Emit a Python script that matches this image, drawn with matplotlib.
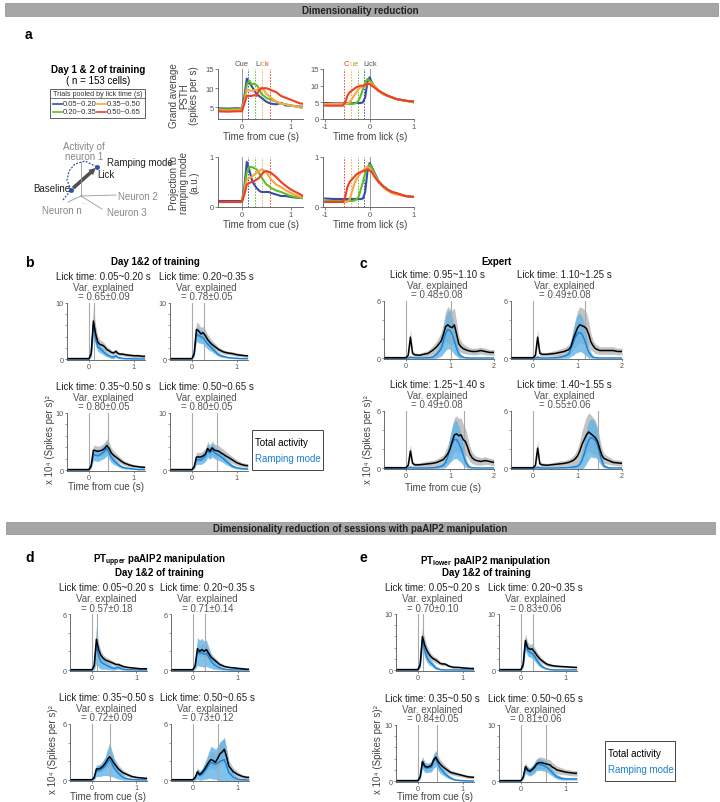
import numpy as np
import matplotlib
matplotlib.use("Agg")
import matplotlib.pyplot as plt
from matplotlib.patches import Rectangle, FancyArrowPatch

plt.rcParams.update({
    "font.family": ["Liberation Sans", "DejaVu Sans"],
    "mathtext.fontset": "custom",
    "mathtext.rm": "Liberation Sans",
    "mathtext.bf": "Liberation Sans:bold",
    "axes.unicode_minus": False,
})

W, H = 720, 803

# ── panel a data (order: blue, green, orange, red lick-time bins) ─────────────
LICK_COLORS = ["#3b4ba3", "#5cbf2a", "#f9a73e", "#ef3e23"]
LICK_BINS_A = ["0.05~0.20", "0.20~0.35", "0.35~0.50", "0.50~0.65"]
LICK_MEDIANS = [0.12, 0.27, 0.42, 0.57]

A_T_CUE = [-0.5, -0.3, -0.1, 0.0, 0.05, 0.1, 0.15, 0.2, 0.25, 0.3, 0.35, 0.4,
           0.45, 0.5, 0.55, 0.6, 0.7, 0.8, 0.9, 1.0, 1.1, 1.2, 1.25]
A_T_LICK = [-1.0, -0.8, -0.6, -0.55, -0.5, -0.45, -0.4, -0.35, -0.3, -0.25, -0.2,
            -0.15, -0.1, -0.05, 0.0, 0.05, 0.1, 0.2, 0.3, 0.4, 0.5, 0.6, 0.8, 1.0]

A_PSTH_CUE = [
    [4.8, 4.7, 4.8, 4.7, 8.0, 12.5, 11.5, 10.5, 9.5, 8.5, 8.0, 7.5, 7.0, 6.5, 6.2, 6.0, 5.8, 6.2, 5.5, 5.5, 5.3, 5.2, 5.2],
    [4.6, 4.5, 4.6, 4.5, 7.0, 11.0, 12.0, 11.0, 11.2, 10.8, 10.0, 8.5, 8.0, 7.5, 7.2, 7.0, 6.5, 6.0, 5.8, 5.5, 5.3, 5.0, 5.0],
    [4.3, 4.2, 4.3, 4.3, 6.5, 9.5, 9.5, 9.3, 9.5, 9.5, 10.0, 10.0, 9.5, 8.5, 8.0, 7.5, 6.5, 6.0, 5.8, 5.5, 5.3, 5.0, 5.0],
    [4.0, 3.9, 4.0, 4.0, 6.0, 8.0, 8.0, 8.0, 8.2, 8.0, 9.5, 10.0, 10.0, 10.0, 9.8, 9.5, 9.0, 8.0, 7.5, 7.0, 6.5, 6.0, 6.0],
]
A_PSTH_LICK = [
    [4.8, 4.7, 4.7, 4.7, 4.7, 4.7, 4.7, 4.8, 4.8, 4.8, 4.8, 5.0, 6.5, 11.0, 12.5, 11.0, 10.0, 8.5, 7.5, 7.0, 6.5, 6.0, 5.5, 5.2],
    [4.5, 4.5, 4.5, 4.5, 4.5, 4.5, 4.5, 4.6, 4.8, 5.5, 7.0, 9.0, 11.0, 12.0, 11.5, 11.0, 10.0, 8.5, 7.5, 7.0, 6.5, 6.0, 5.5, 5.0],
    [4.5, 4.5, 4.5, 4.5, 4.6, 5.0, 6.0, 7.0, 8.0, 9.0, 9.5, 9.8, 10.0, 10.5, 11.0, 10.5, 10.0, 8.5, 7.5, 7.0, 6.5, 6.0, 5.5, 5.0],
    [4.0, 4.0, 4.0, 5.0, 7.0, 8.0, 8.5, 9.0, 9.5, 9.8, 10.0, 10.0, 10.2, 10.5, 10.5, 10.0, 9.5, 8.5, 7.8, 7.0, 6.5, 6.0, 5.5, 5.2],
]
A_PROJ_CUE = [
    [0.12, 0.12, 0.12, 0.12, 0.4, 0.9, 0.75, 0.55, 0.45, 0.38, 0.33, 0.3, 0.3, 0.3, 0.3, 0.28, 0.25, 0.22, 0.22, 0.2, 0.19, 0.18, 0.18],
    [0.1, 0.1, 0.1, 0.1, 0.35, 0.7, 0.8, 0.8, 0.78, 0.75, 0.68, 0.6, 0.52, 0.45, 0.42, 0.38, 0.33, 0.3, 0.26, 0.22, 0.2, 0.18, 0.18],
    [0.1, 0.1, 0.1, 0.1, 0.3, 0.55, 0.58, 0.6, 0.65, 0.68, 0.72, 0.75, 0.73, 0.7, 0.62, 0.55, 0.45, 0.4, 0.33, 0.28, 0.24, 0.2, 0.2],
    [0.1, 0.1, 0.1, 0.1, 0.25, 0.45, 0.48, 0.5, 0.52, 0.55, 0.58, 0.65, 0.7, 0.72, 0.7, 0.68, 0.6, 0.5, 0.42, 0.35, 0.3, 0.25, 0.22],
]
A_PROJ_LICK = [
    [0.17, 0.16, 0.16, 0.16, 0.16, 0.16, 0.16, 0.16, 0.16, 0.16, 0.16, 0.17, 0.3, 0.7, 0.88, 0.8, 0.7, 0.52, 0.42, 0.35, 0.3, 0.27, 0.22, 0.2],
    [0.12, 0.12, 0.12, 0.12, 0.12, 0.12, 0.12, 0.13, 0.15, 0.2, 0.35, 0.5, 0.68, 0.8, 0.85, 0.78, 0.68, 0.52, 0.42, 0.35, 0.3, 0.27, 0.22, 0.2],
    [0.1, 0.1, 0.1, 0.1, 0.1, 0.15, 0.3, 0.45, 0.55, 0.62, 0.68, 0.72, 0.78, 0.8, 0.78, 0.72, 0.65, 0.5, 0.4, 0.33, 0.28, 0.25, 0.22, 0.2],
    [0.1, 0.1, 0.1, 0.2, 0.4, 0.5, 0.55, 0.6, 0.65, 0.68, 0.7, 0.72, 0.73, 0.75, 0.73, 0.7, 0.62, 0.5, 0.42, 0.35, 0.3, 0.28, 0.22, 0.2],
]

# ── panels b, d, e: cue-aligned time grid ────────────────────────────────────
T_CUE = [-0.5, -0.3, -0.1, 0.0, 0.05, 0.1, 0.15, 0.2, 0.25, 0.3, 0.35, 0.4, 0.45,
         0.5, 0.55, 0.6, 0.65, 0.7, 0.75, 0.8, 0.9, 1.0, 1.1, 1.2, 1.25]
LICK_BINS_B = ["0.05~0.20", "0.20~0.35", "0.35~0.50", "0.50~0.65"]

B_VAR = ["0.65±0.09", "0.78±0.05", "0.80±0.05", "0.80±0.05"]
B_TOTAL = [
    [0.1, 0.1, 0.1, 0.1, 1.0, 6.8, 4.5, 3.0, 2.6, 2.5, 2.2, 1.7, 1.5, 1.2, 1.1, 1.4, 1.0, 0.9, 0.9, 0.8, 0.7, 0.6, 0.6, 0.5, 0.5],
    [0.1, 0.1, 0.1, 0.1, 1.0, 5.3, 5.0, 4.5, 4.7, 4.2, 3.5, 3.0, 2.6, 2.3, 2.0, 1.7, 1.5, 1.3, 1.2, 1.1, 1.0, 0.8, 0.7, 0.6, 0.6],
    [0.1, 0.1, 0.1, 0.1, 0.8, 3.5, 3.4, 3.3, 3.4, 3.5, 3.8, 4.3, 3.8, 3.0, 2.6, 2.3, 2.0, 1.7, 1.4, 1.2, 0.9, 0.7, 0.6, 0.5, 0.5],
    [0.1, 0.1, 0.1, 0.1, 0.6, 2.3, 2.3, 2.3, 2.5, 2.8, 3.8, 3.3, 3.9, 3.5, 3.4, 3.3, 3.0, 2.8, 2.5, 2.3, 1.8, 1.3, 1.0, 0.8, 0.8],
]
B_TOTAL_SEM = [
    [0.1, 0.1, 0.1, 0.1, 0.5, 2.4, 1.5, 1.0, 0.8, 0.7, 0.6, 0.5, 0.45, 0.4, 0.4, 0.4, 0.35, 0.3, 0.3, 0.3, 0.3, 0.3, 0.3, 0.25, 0.25],
    [0.1, 0.1, 0.1, 0.1, 0.4, 1.3, 1.3, 1.2, 1.1, 1.0, 0.9, 0.8, 0.7, 0.6, 0.5, 0.45, 0.4, 0.35, 0.35, 0.3, 0.3, 0.3, 0.25, 0.25, 0.25],
    [0.1, 0.1, 0.1, 0.1, 0.3, 0.9, 0.9, 0.9, 0.9, 1.0, 1.1, 1.2, 1.1, 0.9, 0.8, 0.7, 0.6, 0.5, 0.45, 0.4, 0.35, 0.3, 0.25, 0.25, 0.25],
    [0.1, 0.1, 0.1, 0.1, 0.3, 0.8, 0.8, 0.8, 0.9, 1.0, 1.2, 1.1, 1.2, 1.1, 1.0, 1.0, 0.9, 0.9, 0.8, 0.7, 0.6, 0.5, 0.4, 0.35, 0.35],
]
B_RAMP = [
    [0.05, 0.05, 0.05, 0.05, 0.8, 6.3, 3.5, 2.2, 1.8, 1.5, 1.1, 0.8, 0.6, 0.4, 0.4, 0.6, 0.3, 0.2, 0.15, 0.1, 0.1, 0.05, 0.05, 0.05, 0.05],
    [0.05, 0.05, 0.05, 0.05, 0.8, 4.5, 4.2, 4.0, 3.8, 3.2, 2.7, 2.3, 1.9, 1.5, 1.1, 0.8, 0.6, 0.5, 0.4, 0.3, 0.2, 0.15, 0.1, 0.1, 0.1],
    [0.05, 0.05, 0.05, 0.05, 0.6, 2.7, 2.6, 2.5, 2.7, 3.0, 3.3, 3.8, 3.0, 2.2, 1.7, 1.3, 1.0, 0.7, 0.5, 0.4, 0.3, 0.2, 0.1, 0.1, 0.1],
    [0.05, 0.05, 0.05, 0.05, 0.5, 1.8, 1.8, 1.8, 2.1, 2.5, 3.4, 3.0, 3.5, 3.1, 2.8, 2.6, 2.3, 2.0, 1.6, 1.3, 0.7, 0.4, 0.3, 0.2, 0.2],
]
B_RAMP_SEM = [
    [0.05, 0.05, 0.05, 0.05, 0.5, 2.0, 1.2, 0.8, 0.7, 0.6, 0.5, 0.4, 0.3, 0.3, 0.3, 0.3, 0.2, 0.15, 0.1, 0.1, 0.1, 0.05, 0.05, 0.05, 0.05],
    [0.05, 0.05, 0.05, 0.05, 0.4, 1.3, 1.3, 1.2, 1.1, 1.0, 0.9, 0.8, 0.6, 0.5, 0.4, 0.3, 0.25, 0.2, 0.15, 0.1, 0.1, 0.1, 0.05, 0.05, 0.05],
    [0.05, 0.05, 0.05, 0.05, 0.3, 1.0, 1.0, 1.0, 1.0, 1.1, 1.2, 1.3, 1.1, 0.9, 0.7, 0.5, 0.4, 0.3, 0.25, 0.2, 0.15, 0.1, 0.05, 0.05, 0.05],
    [0.05, 0.05, 0.05, 0.05, 0.3, 0.8, 0.8, 0.8, 0.9, 1.0, 1.2, 1.1, 1.2, 1.1, 1.0, 0.9, 0.8, 0.7, 0.6, 0.5, 0.3, 0.2, 0.15, 0.1, 0.1],
]

D_VAR = ["0.57±0.18", "0.71±0.14", "0.72±0.09", "0.73±0.12"]
D_TOTAL = [
    [0.05, 0.05, 0.05, 0.05, 0.5, 3.3, 2.2, 1.6, 1.3, 1.1, 1.0, 0.9, 0.8, 0.7, 0.6, 0.6, 0.5, 0.4, 0.35, 0.3, 0.25, 0.2, 0.15, 0.15, 0.15],
    [0.05, 0.05, 0.05, 0.05, 0.5, 2.3, 2.0, 2.2, 2.0, 2.2, 1.8, 1.4, 1.2, 1.0, 0.8, 0.6, 0.5, 0.4, 0.35, 0.3, 0.25, 0.2, 0.15, 0.1, 0.1],
    [0.05, 0.05, 0.05, 0.05, 0.3, 1.2, 1.2, 1.3, 1.5, 1.8, 2.2, 2.5, 2.2, 1.8, 1.5, 1.2, 1.0, 0.8, 0.7, 0.6, 0.4, 0.3, 0.25, 0.2, 0.2],
    [0.05, 0.05, 0.05, 0.05, 0.3, 0.9, 0.6, 0.8, 1.1, 1.5, 1.9, 2.2, 2.1, 1.9, 2.3, 2.8, 3.0, 3.3, 2.5, 1.5, 0.9, 0.6, 0.4, 0.3, 0.3],
]
D_TOTAL_SEM = [
    [0.05, 0.05, 0.05, 0.05, 0.3, 1.0, 0.7, 0.5, 0.4, 0.35, 0.3, 0.3, 0.25, 0.25, 0.2, 0.2, 0.2, 0.15, 0.15, 0.1, 0.1, 0.1, 0.1, 0.1, 0.1],
    [0.05, 0.05, 0.05, 0.05, 0.3, 0.6, 0.6, 0.6, 0.6, 0.6, 0.5, 0.4, 0.35, 0.3, 0.25, 0.2, 0.2, 0.15, 0.1, 0.1, 0.1, 0.1, 0.05, 0.05, 0.05],
    [0.05, 0.05, 0.05, 0.05, 0.2, 0.4, 0.4, 0.4, 0.5, 0.6, 0.8, 1.0, 0.8, 0.6, 0.5, 0.4, 0.35, 0.3, 0.25, 0.2, 0.15, 0.1, 0.1, 0.1, 0.1],
    [0.05, 0.05, 0.05, 0.05, 0.2, 0.4, 0.3, 0.4, 0.5, 0.6, 0.7, 0.9, 0.9, 0.8, 0.9, 1.1, 1.2, 1.3, 1.0, 0.6, 0.4, 0.3, 0.2, 0.15, 0.15],
]
D_RAMP = [
    [0.02, 0.02, 0.02, 0.02, 0.4, 2.7, 1.5, 0.9, 0.7, 0.6, 0.45, 0.35, 0.25, 0.2, 0.25, 0.3, 0.2, 0.1, 0.08, 0.05, 0.05, 0.03, 0.03, 0.03, 0.03],
    [0.02, 0.02, 0.02, 0.02, 0.4, 2.0, 1.8, 1.9, 1.7, 1.8, 1.4, 1.0, 0.7, 0.5, 0.35, 0.25, 0.15, 0.1, 0.08, 0.05, 0.03, 0.03, 0.03, 0.03, 0.03],
    [0.02, 0.02, 0.02, 0.02, 0.2, 1.0, 1.0, 1.1, 1.3, 1.5, 1.9, 2.2, 1.8, 1.3, 1.0, 0.7, 0.5, 0.3, 0.2, 0.15, 0.08, 0.05, 0.03, 0.03, 0.03],
    [0.02, 0.02, 0.02, 0.02, 0.2, 0.7, 0.5, 0.6, 0.9, 1.2, 1.6, 1.9, 1.8, 1.7, 1.8, 2.0, 2.1, 2.2, 1.5, 0.8, 0.3, 0.1, 0.05, 0.03, 0.03],
]
D_RAMP_SEM = [
    [0.02, 0.02, 0.02, 0.02, 0.4, 2.0, 1.2, 0.8, 0.6, 0.5, 0.4, 0.3, 0.25, 0.2, 0.2, 0.2, 0.15, 0.1, 0.08, 0.05, 0.05, 0.03, 0.03, 0.03, 0.03],
    [0.02, 0.02, 0.02, 0.02, 0.3, 1.5, 1.4, 1.5, 1.4, 1.4, 1.1, 0.8, 0.6, 0.4, 0.3, 0.2, 0.15, 0.1, 0.08, 0.05, 0.03, 0.03, 0.03, 0.03, 0.03],
    [0.02, 0.02, 0.02, 0.02, 0.2, 0.6, 0.6, 0.7, 0.8, 1.0, 1.4, 1.8, 1.4, 1.0, 0.8, 0.6, 0.4, 0.3, 0.2, 0.15, 0.08, 0.05, 0.03, 0.03, 0.03],
    [0.02, 0.02, 0.02, 0.02, 0.2, 0.6, 0.5, 0.6, 0.8, 1.1, 1.4, 1.7, 1.7, 1.6, 1.8, 2.1, 2.2, 2.3, 1.7, 1.0, 0.4, 0.15, 0.08, 0.05, 0.05],
]

E_VAR = ["0.70±0.10", "0.83±0.06", "0.84±0.05", "0.81±0.06"]
E_TOTAL = [
    [0.1, 0.1, 0.1, 0.1, 1.0, 6.0, 4.5, 3.5, 2.8, 2.3, 2.0, 1.8, 1.5, 1.2, 1.1, 1.1, 0.9, 0.7, 0.6, 0.5, 0.5, 0.4, 0.35, 0.3, 0.3],
    [0.1, 0.1, 0.1, 0.1, 1.0, 5.3, 4.0, 3.7, 3.8, 3.3, 2.7, 2.2, 1.8, 1.5, 1.2, 1.0, 0.9, 0.8, 0.75, 0.7, 0.65, 0.6, 0.55, 0.5, 0.5],
    [0.1, 0.1, 0.1, 0.1, 0.8, 3.5, 2.7, 2.5, 2.6, 2.8, 3.8, 4.3, 3.5, 3.0, 2.6, 2.3, 2.0, 1.7, 1.5, 1.4, 1.2, 1.0, 0.8, 0.7, 0.7],
    [0.1, 0.1, 0.1, 0.1, 0.7, 2.6, 2.0, 1.8, 2.1, 2.5, 3.1, 3.3, 3.3, 3.2, 3.1, 3.0, 2.9, 2.5, 2.3, 2.0, 1.8, 1.6, 1.5, 1.4, 1.4],
]
E_TOTAL_SEM = [
    [0.1, 0.1, 0.1, 0.1, 0.4, 1.6, 1.2, 0.9, 0.7, 0.6, 0.5, 0.5, 0.4, 0.3, 0.3, 0.3, 0.25, 0.2, 0.2, 0.2, 0.15, 0.15, 0.1, 0.1, 0.1],
    [0.1, 0.1, 0.1, 0.1, 0.4, 1.2, 1.0, 0.9, 0.9, 0.8, 0.7, 0.6, 0.5, 0.4, 0.35, 0.3, 0.3, 0.25, 0.2, 0.2, 0.2, 0.15, 0.15, 0.15, 0.15],
    [0.1, 0.1, 0.1, 0.1, 0.4, 0.9, 0.8, 0.7, 0.7, 0.8, 1.0, 1.2, 1.0, 0.8, 0.7, 0.6, 0.5, 0.5, 0.4, 0.4, 0.35, 0.3, 0.3, 0.25, 0.25],
    [0.1, 0.1, 0.1, 0.1, 0.3, 0.7, 0.6, 0.6, 0.7, 0.8, 0.9, 1.0, 1.0, 1.0, 0.9, 0.9, 0.9, 0.8, 0.7, 0.7, 0.6, 0.5, 0.5, 0.5, 0.5],
]
E_RAMP = [
    [0.05, 0.05, 0.05, 0.05, 0.8, 5.5, 3.5, 2.3, 1.6, 1.2, 0.8, 0.4, 0.25, 0.1, 0.08, 0.05, 0.05, 0.05, 0.05, 0.05, 0.05, 0.05, 0.05, 0.05, 0.05],
    [0.05, 0.05, 0.05, 0.05, 0.8, 4.8, 3.5, 3.2, 3.0, 2.5, 1.8, 1.2, 0.8, 0.5, 0.3, 0.2, 0.1, 0.08, 0.05, 0.05, 0.05, 0.05, 0.05, 0.05, 0.05],
    [0.05, 0.05, 0.05, 0.05, 0.7, 3.2, 2.5, 2.3, 2.4, 2.5, 3.5, 4.0, 3.0, 2.3, 1.8, 1.3, 1.0, 0.7, 0.5, 0.3, 0.15, 0.1, 0.05, 0.05, 0.05],
    [0.05, 0.05, 0.05, 0.05, 0.6, 2.2, 1.8, 1.6, 1.9, 2.3, 2.9, 3.0, 2.9, 2.8, 2.6, 2.3, 1.9, 1.5, 1.1, 0.8, 0.5, 0.4, 0.4, 0.4, 0.4],
]
E_RAMP_SEM = [
    [0.05, 0.05, 0.05, 0.05, 0.4, 1.8, 1.2, 0.9, 0.7, 0.5, 0.4, 0.3, 0.2, 0.1, 0.05, 0.05, 0.05, 0.05, 0.05, 0.05, 0.05, 0.05, 0.05, 0.05, 0.05],
    [0.05, 0.05, 0.05, 0.05, 0.4, 1.3, 1.0, 0.9, 0.9, 0.8, 0.6, 0.5, 0.35, 0.25, 0.15, 0.1, 0.08, 0.05, 0.05, 0.05, 0.05, 0.05, 0.05, 0.05, 0.05],
    [0.05, 0.05, 0.05, 0.05, 0.4, 1.0, 0.9, 0.8, 0.8, 0.9, 1.2, 1.4, 1.1, 0.9, 0.7, 0.5, 0.4, 0.3, 0.2, 0.15, 0.1, 0.05, 0.05, 0.05, 0.05],
    [0.05, 0.05, 0.05, 0.05, 0.3, 0.8, 0.7, 0.7, 0.8, 0.9, 1.0, 1.1, 1.0, 1.0, 0.9, 0.8, 0.7, 0.6, 0.5, 0.4, 0.3, 0.2, 0.2, 0.2, 0.2],
]

# ── panel c (expert): longer time grid ───────────────────────────────────────
T_EXP = [-0.5, -0.3, -0.1, 0.0, 0.05, 0.1, 0.15, 0.2, 0.3, 0.4, 0.5, 0.6, 0.7, 0.8, 0.85,
         0.9, 0.95, 1.0, 1.05, 1.1, 1.15, 1.2, 1.25, 1.3, 1.35, 1.4, 1.45, 1.5, 1.55,
         1.6, 1.7, 1.8, 1.9, 2.0]
LICK_BINS_C = ["0.95~1.10", "1.10~1.25", "1.25~1.40", "1.40~1.55"]
LICK_MEDIANS_C = [1.02, 1.17, 1.32, 1.47]
C_VAR = ["0.48±0.08", "0.49±0.08", "0.49±0.08", "0.55±0.06"]
C_TOTAL = [
    [0.05, 0.05, 0.05, 0.05, 0.3, 2.2, 0.5, 0.35, 0.3, 0.4, 0.5, 0.8, 1.2, 1.8, 2.5, 3.3, 3.5, 3.3, 3.2, 3.5, 2.5, 1.5, 1.2, 1.0, 0.9, 0.8, 0.75, 0.7, 0.7, 0.7, 0.8, 0.7, 0.6, 0.6],
    [0.05, 0.05, 0.05, 0.05, 0.3, 2.2, 0.5, 0.4, 0.4, 0.45, 0.5, 0.6, 0.7, 0.9, 1.2, 2.0, 2.6, 3.2, 3.5, 3.4, 3.3, 3.1, 2.5, 1.7, 1.3, 1.0, 0.9, 0.8, 0.8, 0.8, 0.8, 0.8, 0.7, 0.7],
    [0.05, 0.05, 0.05, 0.05, 0.3, 1.8, 0.5, 0.35, 0.35, 0.4, 0.45, 0.5, 0.6, 0.8, 0.9, 1.2, 1.5, 2.0, 2.8, 3.5, 3.6, 3.4, 3.5, 3.0, 2.8, 2.2, 1.5, 1.1, 0.9, 0.8, 0.7, 0.8, 0.7, 0.6],
    [0.05, 0.05, 0.05, 0.05, 0.3, 2.1, 0.45, 0.35, 0.3, 0.35, 0.4, 0.45, 0.5, 0.6, 0.7, 0.8, 1.0, 1.3, 1.8, 2.5, 3.0, 3.5, 3.8, 3.6, 3.4, 3.2, 2.8, 2.0, 1.3, 1.0, 0.8, 0.6, 0.55, 0.5],
]
C_TOTAL_SEM = [
    [0.05, 0.05, 0.05, 0.05, 0.2, 0.8, 0.3, 0.2, 0.2, 0.25, 0.3, 0.45, 0.6, 0.9, 1.2, 1.6, 1.9, 1.9, 1.8, 1.8, 1.3, 0.8, 0.6, 0.5, 0.45, 0.4, 0.35, 0.35, 0.35, 0.35, 0.35, 0.35, 0.3, 0.3],
    [0.05, 0.05, 0.05, 0.05, 0.2, 0.8, 0.3, 0.2, 0.2, 0.25, 0.3, 0.35, 0.4, 0.5, 0.7, 1.1, 1.5, 1.8, 1.9, 1.9, 1.8, 1.7, 1.3, 0.9, 0.6, 0.5, 0.45, 0.4, 0.4, 0.4, 0.4, 0.4, 0.35, 0.35],
    [0.05, 0.05, 0.05, 0.05, 0.2, 0.7, 0.3, 0.2, 0.2, 0.25, 0.3, 0.3, 0.35, 0.45, 0.5, 0.7, 0.9, 1.2, 1.5, 1.8, 1.9, 1.8, 1.8, 1.6, 1.4, 1.1, 0.8, 0.6, 0.5, 0.45, 0.4, 0.4, 0.35, 0.35],
    [0.05, 0.05, 0.05, 0.05, 0.2, 0.8, 0.3, 0.2, 0.2, 0.2, 0.25, 0.3, 0.3, 0.35, 0.4, 0.5, 0.6, 0.8, 1.1, 1.4, 1.7, 1.9, 2.0, 2.0, 1.9, 1.8, 1.5, 1.1, 0.7, 0.5, 0.4, 0.3, 0.3, 0.3],
]
C_RAMP = [
    [0, 0, 0, 0, 0.02, 0.1, 0.05, 0.03, 0.03, 0.03, 0.05, 0.1, 0.4, 1.0, 1.8, 2.6, 3.0, 2.9, 2.5, 1.8, 1.0, 0.4, 0.2, 0.1, 0.05, 0.03, 0.02, 0.02, 0.02, 0.02, 0.02, 0.02, 0.02, 0.02],
    [0, 0, 0, 0, 0.02, 0.1, 0.03, 0.02, 0.02, 0.03, 0.05, 0.1, 0.2, 0.4, 1.0, 1.6, 2.2, 2.6, 2.7, 2.5, 2.0, 1.3, 0.6, 0.3, 0.1, 0.05, 0.03, 0.02, 0.02, 0.02, 0.02, 0.02, 0.02, 0.02],
    [0, 0, 0, 0, 0.02, 0.1, 0.03, 0.02, 0.02, 0.02, 0.03, 0.05, 0.1, 0.2, 0.3, 0.6, 1.2, 2.0, 2.6, 3.0, 3.0, 2.6, 2.1, 1.4, 0.7, 0.3, 0.1, 0.05, 0.03, 0.02, 0.02, 0.02, 0.02, 0.02],
    [0, 0, 0, 0, 0.02, 0.1, 0.03, 0.02, 0.02, 0.02, 0.02, 0.03, 0.05, 0.08, 0.1, 0.12, 0.15, 0.2, 0.4, 0.8, 1.5, 2.3, 2.9, 3.2, 3.1, 2.9, 2.4, 1.5, 0.7, 0.2, 0.03, 0.02, 0.02, 0.02],
]
C_RAMP_SEM = [
    [0.02, 0.02, 0.02, 0.02, 0.05, 0.2, 0.05, 0.05, 0.05, 0.05, 0.1, 0.2, 0.4, 0.8, 1.3, 1.8, 2.0, 2.0, 1.8, 1.4, 0.8, 0.4, 0.2, 0.1, 0.05, 0.03, 0.02, 0.02, 0.02, 0.02, 0.02, 0.02, 0.02, 0.02],
    [0.02, 0.02, 0.02, 0.02, 0.05, 0.2, 0.05, 0.05, 0.05, 0.05, 0.1, 0.15, 0.2, 0.4, 0.8, 1.3, 1.7, 2.0, 2.0, 1.9, 1.6, 1.1, 0.6, 0.3, 0.1, 0.05, 0.03, 0.02, 0.02, 0.02, 0.02, 0.02, 0.02, 0.02],
    [0.02, 0.02, 0.02, 0.02, 0.05, 0.2, 0.05, 0.05, 0.05, 0.05, 0.05, 0.1, 0.15, 0.2, 0.3, 0.5, 0.9, 1.4, 1.8, 2.0, 2.0, 1.8, 1.5, 1.1, 0.6, 0.3, 0.1, 0.05, 0.03, 0.02, 0.02, 0.02, 0.02, 0.02],
    [0.02, 0.02, 0.02, 0.02, 0.05, 0.2, 0.05, 0.05, 0.05, 0.05, 0.05, 0.05, 0.08, 0.1, 0.15, 0.2, 0.25, 0.3, 0.5, 0.9, 1.4, 1.8, 2.0, 2.0, 2.0, 1.8, 1.5, 1.0, 0.5, 0.2, 0.05, 0.02, 0.02, 0.02],
]

# ── layout (pixel boxes: x0, x1, y_top, y_bottom) ────────────────────────────
B_POS = [(66.5, 145, 304, 361), (169.5, 248, 304, 361), (66.5, 145, 414, 472), (169.5, 248, 414, 472)]
C_POS = [(384, 494, 302, 360), (511, 622, 302, 360), (384, 494, 412, 470), (511, 622, 412, 470)]
D_POS = [(70, 147, 615, 672), (170.5, 249, 615, 672), (70, 147, 725, 782), (170.5, 249, 725, 782)]
E_POS = [(395.5, 474, 615, 672), (498.5, 577, 615, 672), (395.5, 474, 726, 783), (498.5, 577, 726, 783)]

TOTAL_C = "black"
RAMP_C = "#1c80d4"
GRAY_BAND = "#bdbdbd"
BLUE_BAND = "#5fb5e8"
AX_C = "#555555"

fig = plt.figure(figsize=(W / 100, H / 100), dpi=100)

# overlay for headers / schematic / boxes (pixel coords, y down)
ov = fig.add_axes([0, 0, 1, 1])
ov.set_xlim(0, W)
ov.set_ylim(H, 0)
ov.axis("off")


def add_ax(x0, x1, yt, yb):
    return fig.add_axes([x0 / W, 1 - yb / H, (x1 - x0) / W, (yb - yt) / H])


def txt(x, y, s, **kw):
    kw.setdefault("ha", "center")
    kw.setdefault("va", "center")
    return fig.text(x / W, 1 - y / H, s, **kw)


def style(ax, xlim, ylim, xticks, yticks, lab=5.5, tlen=2.0):
    ax.set_xlim(*xlim)
    ax.set_ylim(*ylim)
    ax.patch.set_alpha(0)
    for s in ("top", "right"):
        ax.spines[s].set_visible(False)
    for s in ("left", "bottom"):
        ax.spines[s].set_linewidth(0.6)
        ax.spines[s].set_color(AX_C)
    ax.set_xticks(xticks)
    ax.set_xticklabels([f"{v:g}" for v in xticks])
    ax.set_yticks(yticks)
    ax.set_yticklabels([f"{v:g}" for v in yticks])
    ax.tick_params(length=tlen, width=0.5, labelsize=lab, colors=AX_C, pad=0.8)


def rainbow(x, y, parts, size):
    r = fig.canvas.get_renderer()
    for s, c in parts:
        t = txt(x, y, s, color=c, fontsize=size, ha="left")
        x += t.get_window_extent(renderer=r).width


# ── headers ──────────────────────────────────────────────────────────────────
ov.add_patch(Rectangle((5, 4), 713, 13, fc="#a6a6a6", ec="#8c8c8c", lw=0.5))
txt(360, 10.5, "Dimensionality reduction", fontsize=7, weight="bold", color="#222222")
ov.add_patch(Rectangle((6, 523), 709, 12, fc="#a6a6a6", ec="#8c8c8c", lw=0.5))
txt(360, 529, "Dimensionality reduction of sessions with paAIP2 manipulation",
    fontsize=7, weight="bold", color="#222222")

# ── panel a ──────────────────────────────────────────────────────────────────
txt(28, 35, "a", fontsize=10, weight="bold")
txt(98, 70, "Day 1 & 2 of training", fontsize=7, weight="bold")
txt(98, 81, "( n = 153 cells)", fontsize=7)

ov.add_patch(Rectangle((50, 90), 95, 29, fc="white", ec="#444444", lw=0.6))
ov.plot([50, 145], [98.5, 98.5], color="#444444", lw=0.5)
txt(97.5, 94, "Trials pooled by lick time (s)", fontsize=5.2, color="#333333")
for i, (lab, c) in enumerate(zip(LICK_BINS_A, LICK_COLORS)):
    col, row = i // 2, i % 2
    lx = 53 + col * 44
    ly = 105 + row * 7.5
    ov.plot([lx, lx + 9], [ly, ly], color=c, lw=1.2)
    txt(lx + 10, ly, lab, fontsize=5.5, ha="left", color="#333333")

ax_pc = add_ax(217.5, 303, 70, 120)
ax_pl = add_ax(323, 414, 70, 120)
ax_rc = add_ax(217.5, 303, 158, 208)
ax_rl = add_ax(323, 414, 158, 208)

for ax, t, ys, sign, ylim, yt in (
        (ax_pc, A_T_CUE, A_PSTH_CUE, 1, (2, 15), [5, 10, 15]),
        (ax_pl, A_T_LICK, A_PSTH_LICK, -1, (0, 15), [0, 5, 10, 15]),
        (ax_rc, A_T_CUE, A_PROJ_CUE, 1, (0, 1), [0, 1]),
        (ax_rl, A_T_LICK, A_PROJ_LICK, -1, (0, 1), [0, 1])):
    ax.axvline(0, color="#999999", lw=0.7)
    for m, c in zip(LICK_MEDIANS, LICK_COLORS):
        ax.axvline(sign * m, color=c, lw=0.7, ls=(0, (1.5, 1.5)))
    for y, c in zip(ys, LICK_COLORS):
        ax.plot(t, y, color=c, lw=1.5, solid_joinstyle="round")
    if sign == 1:
        style(ax, (-0.5, 1.25), ylim, [0, 1], yt)
    else:
        style(ax, (-1.05, 1), ylim, [-1, 0, 1], yt)

txt(242, 64, "Cue", fontsize=5.5, color="#555555")
rainbow(255, 64, list(zip("Lick", LICK_COLORS)), 5.5)
rainbow(344, 64, list(zip("Cue", LICK_COLORS[::-1])), 5.5)
txt(370, 64, "Lick", fontsize=5.5, color="#555555")

for y in (137, 225):
    txt(261, y, "Time from cue (s)", fontsize=7, color="#444444")
    txt(370, y, "Time from lick (s)", fontsize=7, color="#444444")
txt(184, 96, "Grand average\nPSTH\n(spikes per s)", fontsize=7, rotation=90,
    color="#444444", linespacing=1.05)
txt(184, 183, "Projection to\nramping mode\n(a.u.)", fontsize=7, rotation=90,
    color="#444444", linespacing=1.05)

# schematic of the ramping mode in state space
ov.plot([81, 81], [163, 197], color="#999999", lw=0.6)
ov.plot([81, 116], [197, 196], color="#999999", lw=0.6)
ov.plot([81, 102], [197, 210], color="#999999", lw=0.6)
ov.plot([81, 68], [197, 203], color="#999999", lw=0.6)
ov.plot([63, 67, 71], [201, 196, 191], color="#3050b0", lw=0.9, ls=(0, (1.5, 1.2)))
ov.plot([71, 67, 69, 75, 85, 97], [191, 181, 172, 165, 162, 168],
        color="#3050b0", lw=0.9, ls=(0, (1.5, 1.2)))
ov.add_patch(FancyArrowPatch((71, 191), (98, 167),
                             arrowstyle="simple,head_width=5,head_length=5,tail_width=2.6",
                             color="#505050", lw=0, mutation_scale=1.0))
ov.plot([71, 97], [191, 168], "o", color="#3050b0", ms=2.5)
txt(84, 152, "Activity of\nneuron 1", fontsize=7, color="#888888", linespacing=0.9)
txt(107, 163, "Ramping mode", fontsize=7, ha="left", color="#222222")
txt(97, 175, "Lick", fontsize=7, ha="left", color="#222222")
txt(70, 189, "Baseline", fontsize=7, ha="right", color="#222222")
txt(118, 197, "Neuron 2", fontsize=7, ha="left", color="#888888")
txt(107, 213, "Neuron 3", fontsize=7, ha="left", color="#888888")
txt(62, 211, "Neuron n", fontsize=7, color="#888888")
txt(84, 203, "...", fontsize=4.5, color="#888888")


# ── small multiples (b-e) ────────────────────────────────────────────────────
def small_multiples(pos, t, tot, tot_sem, ramp, ramp_sem, medians, bins, var,
                    xlim, xticks, ymax):
    t = np.array(t)
    for i, (x0, x1, yt, yb) in enumerate(pos):
        ax = add_ax(x0, x1, yt, yb)
        k, ks = np.array(tot[i]), np.array(tot_sem[i])
        r, rs = np.array(ramp[i]), np.array(ramp_sem[i])
        ax.axvline(0, color="#aaaaaa", lw=0.8)
        ax.axvline(medians[i], color="#aaaaaa", lw=0.8)
        ax.fill_between(t, k - ks, k + ks, color=GRAY_BAND, lw=0, alpha=0.9)
        ax.fill_between(t, r - rs, r + rs, color=BLUE_BAND, lw=0, alpha=0.8)
        ax.plot(t, r, color=RAMP_C, lw=1.0)
        ax.plot(t, k, color=TOTAL_C, lw=1.1)
        style(ax, xlim, (-0.015 * ymax, ymax), xticks, [0, ymax], lab=5.2, tlen=1.5)
        ax.set_yticks(np.linspace(0, ymax, 6 if ymax == 10 else 4), minor=True)
        ax.tick_params(which="minor", length=1.2, width=0.4, colors=AX_C)
        xc = (x0 + x1) / 2 - 2
        txt(xc, yt - 27, f"Lick time: {bins[i]} s", fontsize=7, color="#222222")
        txt(xc, yt - 16, "Var. explained", fontsize=7, color="#555555")
        txt(xc, yt - 6.5, f"= {var[i]}", fontsize=7, color="#555555")


YLAB = "x 10⁴ (Spikes per s)²"

# panel b
txt(29, 263, "b", fontsize=10, weight="bold")
txt(155, 262, "Day 1&2 of training", fontsize=7, weight="bold")
small_multiples(B_POS, T_CUE, B_TOTAL, B_TOTAL_SEM, B_RAMP, B_RAMP_SEM,
                LICK_MEDIANS, LICK_BINS_B, B_VAR, (-0.5, 1.25), [0, 1], 10)
txt(50, 440, YLAB, fontsize=7, rotation=90, color="#444444")
txt(106, 487, "Time from cue (s)", fontsize=7, color="#444444")
ov.add_patch(Rectangle((252, 431), 71, 40, fc="white", ec="#444444", lw=0.7))
txt(255, 443, "Total activity", fontsize=7, ha="left", color=TOTAL_C)
txt(255, 459, "Ramping mode", fontsize=7, ha="left", color=RAMP_C)

# panel c
txt(363, 264, "c", fontsize=10, weight="bold")
txt(497, 262, "Expert", fontsize=7, weight="bold")
small_multiples(C_POS, T_EXP, C_TOTAL, C_TOTAL_SEM, C_RAMP, C_RAMP_SEM,
                LICK_MEDIANS_C, LICK_BINS_C, C_VAR, (-0.5, 2), [0, 1, 2], 6)
txt(368, 440, YLAB, fontsize=7, rotation=90, color="#444444")
txt(443, 488, "Time from cue (s)", fontsize=7, color="#444444")

# panel d
txt(30, 558, "d", fontsize=10, weight="bold")
txt(159, 561, "PT$_{\\mathregular{upper}}$ paAIP2 manipulation", fontsize=7, weight="bold")
txt(159, 573, "Day 1&2 of training", fontsize=7, weight="bold")
small_multiples(D_POS, T_CUE, D_TOTAL, D_TOTAL_SEM, D_RAMP, D_RAMP_SEM,
                LICK_MEDIANS, LICK_BINS_B, D_VAR, (-0.5, 1.25), [0, 1], 6)
txt(53, 750, YLAB, fontsize=7, rotation=90, color="#444444")
txt(108, 797, "Time from cue (s)", fontsize=7, color="#444444")

# panel e
txt(363, 558, "e", fontsize=10, weight="bold")
txt(486, 561, "PT$_{\\mathregular{lower}}$ paAIP2 manipulation", fontsize=7, weight="bold")
txt(486, 573, "Day 1&2 of training", fontsize=7, weight="bold")
small_multiples(E_POS, T_CUE, E_TOTAL, E_TOTAL_SEM, E_RAMP, E_RAMP_SEM,
                LICK_MEDIANS, LICK_BINS_B, E_VAR, (-0.5, 1.25), [0, 1], 10)
txt(378, 750, YLAB, fontsize=7, rotation=90, color="#444444")
txt(435, 797, "Time from cue (s)", fontsize=7, color="#444444")
ov.add_patch(Rectangle((605, 742), 70, 40, fc="white", ec="#444444", lw=0.7))
txt(608, 754, "Total activity", fontsize=7, ha="left", color=TOTAL_C)
txt(608, 770, "Ramping mode", fontsize=7, ha="left", color=RAMP_C)

fig.savefig("out.png", dpi=100)
